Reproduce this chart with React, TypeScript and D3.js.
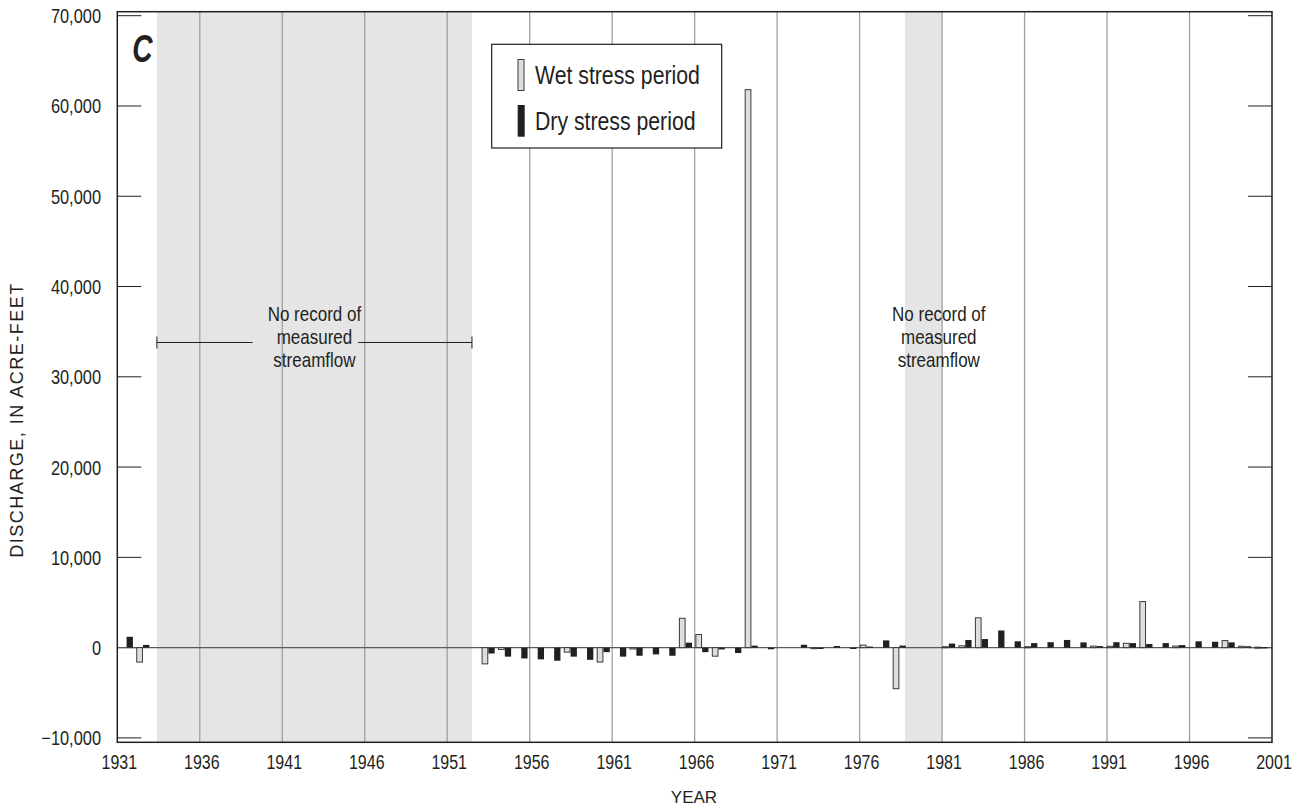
import React from "react";
import * as d3 from "d3";

const years: number[] = d3.range(1931, 2001);
// discharge, acre-feet (null = no record)
const wetValues: (number | null)[] = [
  0, -1600,
  null, null, null, null, null, null, null, null, null, null,
  null, null, null, null, null, null, null, null, null, null,
  -1800, -200, 0, 0, 0, -500, 0, -1600, 0, -150,
  0, 0, 3250, 1450, -950, 0, 61800, 0, 0, 0,
  -120, 0, 0, 280, 0, -4550, null, null, 100, 200,
  3300, 0, 0, 100, 0, 0, 0, 170, 150, 480,
  5100, 0, 170, 0, 0, 780, 150, 50,
];
const dryValues: (number | null)[] = [
  1200, 300,
  null, null, null, null, null, null, null, null, null, null,
  null, null, null, null, null, null, null, null, null, null,
  -650, -1000, -1200, -1300, -1450, -1000, -1350, -500, -1000, -900,
  -750, -900, 550, -500, -200, -600, 220, -180, 0, 320,
  -150, 180, -150, 120, 800, 230, null, null, 450, 850,
  950, 1900, 700, 500, 600, 850, 580, 170, 600, 500,
  400, 500, 280, 700, 650, 580, 150, 50,
];
const xTicks: number[] = d3.range(1931, 2002, 5);
const yTicks: number[] = d3.range(-10000, 70001, 10000);
const noRecord: [number, number][] = [
  [1933.4, 1952.5],
  [1978.75, 1981],
];
const legendItems = ["Wet stress period", "Dry stress period"];
const noteLines = ["No record of", "measured", "streamflow"];
const noteY = [36900, 34350, 31800];
const bracketY = 33800;

const SANS = "'Liberation Sans', Arial, Helvetica, sans-serif";

function NarrowText(props: {
  x: number;
  y: number;
  size: number;
  anchor?: "start" | "middle" | "end";
  sx?: number;
  weight?: string;
  italic?: boolean;
  children: React.ReactNode;
}) {
  const { x, y, size, anchor = "start", sx = 0.82, weight = "normal", italic = false, children } = props;
  return (
    <text
      transform={`translate(${x},${y}) scale(${sx},1)`}
      textAnchor={anchor}
      fontFamily={SANS}
      fontSize={size}
      fontWeight={weight}
      fontStyle={italic ? "italic" : "normal"}
      fill="#231f20"
    >
      {children}
    </text>
  );
}

export default function App() {
  const W = 1297, H = 808;
  const left = 117.3, right = 1272;
  const frameTop = 11.7, frameBottom = 742.3;
  const x = d3.scaleLinear().domain([1931, 2001]).range([left, right]);
  const xBar = d3.scaleLinear().domain([1931, 2001]).range([120.3, 1271.4]);
  const y = d3.scaleLinear().domain([-10000, 70000]).range([737.9, 15.7]);
  const bw = 6.3;

  const wetColor = "#dedede";
  const dryColor = "#231f20";

  return (
    <svg width={W} height={H} style={{ position: "absolute", left: 0, top: 0, background: "#fff" }}>
      {/* shaded no-record regions */}
      {noRecord.map(([a, b], i) => (
        <rect key={i} x={x(a)} y={frameTop} width={x(b) - x(a)} height={frameBottom - frameTop} fill="#e5e5e5" />
      ))}
      {/* vertical gridlines */}
      {xTicks.slice(1, -1).map((t) => (
        <line key={t} x1={x(t)} x2={x(t)} y1={frameTop} y2={frameBottom} stroke="#a0a0a0" strokeWidth={1.3} />
      ))}
      {/* y ticks inward both sides */}
      {yTicks.map((t) => (
        <g key={t}>
          <line x1={left} x2={left + 24} y1={y(t)} y2={y(t)} stroke="#231f20" strokeWidth={1} />
          <line x1={right - 24} x2={right} y1={y(t)} y2={y(t)} stroke="#231f20" strokeWidth={1} />
        </g>
      ))}
      {/* zero line */}
      <line x1={left} x2={right} y1={y(0)} y2={y(0)} stroke="#5a5a5a" strokeWidth={1.3} />
      {/* bars */}
      {years.map((yr, i) => {
        const w = wetValues[i];
        const d = dryValues[i];
        const out: React.ReactNode[] = [];
        if (w !== null && w !== 0) {
          const y0 = y(Math.max(0, w));
          const h = Math.max(1, Math.abs(y(w) - y(0)));
          out.push(
            <rect key={"w" + yr} x={xBar(yr)} y={y0} width={bw - 0.6} height={h} fill={wetColor} stroke="#3a3a3a" strokeWidth={1} />
          );
        }
        if (d !== null && d !== 0) {
          const y0 = y(Math.max(0, d));
          const h = Math.max(1.2, Math.abs(y(d) - y(0)));
          out.push(<rect key={"d" + yr} x={xBar(yr) + bw} y={y0} width={bw} height={h} fill={dryColor} />);
        }
        return <g key={yr}>{out}</g>;
      })}
      {/* frame */}
      <rect x={left} y={frameTop} width={right - left} height={frameBottom - frameTop} fill="none" stroke="#231f20" strokeWidth={1.5} />
      {/* panel letter */}
      <NarrowText x={142.5} y={61.5} size={39} anchor="middle" sx={0.72} weight="bold" italic>
        C
      </NarrowText>
      {/* y tick labels */}
      {yTicks.map((t) => (
        <NarrowText key={t} x={101} y={y(t) + 7.5} size={20} anchor="end">
          {d3.format(",")(t)}
        </NarrowText>
      ))}
      {/* x tick labels */}
      {xTicks.map((t) => (
        <NarrowText key={t} x={x(t) + 2} y={769} size={19.5} anchor="middle">
          {t}
        </NarrowText>
      ))}
      {/* axis titles */}
      <text x={694} y={803} textAnchor="middle" fontFamily={SANS} fontSize={17} fill="#231f20">
        YEAR
      </text>
      <text
        transform={`translate(23, 420) rotate(-90)`}
        textAnchor="middle"
        fontFamily={SANS}
        fontSize={18}
        letterSpacing={1.5}
        fill="#231f20"
      >
        DISCHARGE, IN ACRE-FEET
      </text>
      {/* no record notes */}
      {noRecord.map(([a, b], k) => {
        const cx = k === 0 ? (x(a) + x(b)) / 2 : x(1980.8);
        return (
          <g key={k}>
            {noteLines.map((s, j) => (
              <NarrowText key={j} x={cx} y={y(noteY[j]) + 6.5} size={20} sx={0.85} anchor="middle">
                {s}
              </NarrowText>
            ))}
          </g>
        );
      })}
      {/* bracket for first gap */}
      <g stroke="#231f20" strokeWidth={1}>
        <line x1={x(noRecord[0][0])} x2={x(1939.2)} y1={y(bracketY)} y2={y(bracketY)} />
        <line x1={x(1945.6)} x2={x(noRecord[0][1])} y1={y(bracketY)} y2={y(bracketY)} />
        <line x1={x(noRecord[0][0])} x2={x(noRecord[0][0])} y1={y(bracketY) - 6} y2={y(bracketY) + 6} />
        <line x1={x(noRecord[0][1])} x2={x(noRecord[0][1])} y1={y(bracketY) - 6} y2={y(bracketY) + 6} />
      </g>
      {/* legend */}
      <g>
        <rect x={491.7} y={44.3} width={230} height={103.7} fill="#fff" stroke="#231f20" strokeWidth={1.2} />
        <rect x={518} y={59.5} width={6} height={31} fill={wetColor} stroke="#3a3a3a" strokeWidth={1} />
        <rect x={517.7} y={105} width={7} height={31.7} fill={dryColor} />
        {legendItems.map((s, i) => (
          <NarrowText key={s} x={535} y={83.5 + i * 46.5} size={25} sx={0.85}>
            {s}
          </NarrowText>
        ))}
      </g>
    </svg>
  );
}
